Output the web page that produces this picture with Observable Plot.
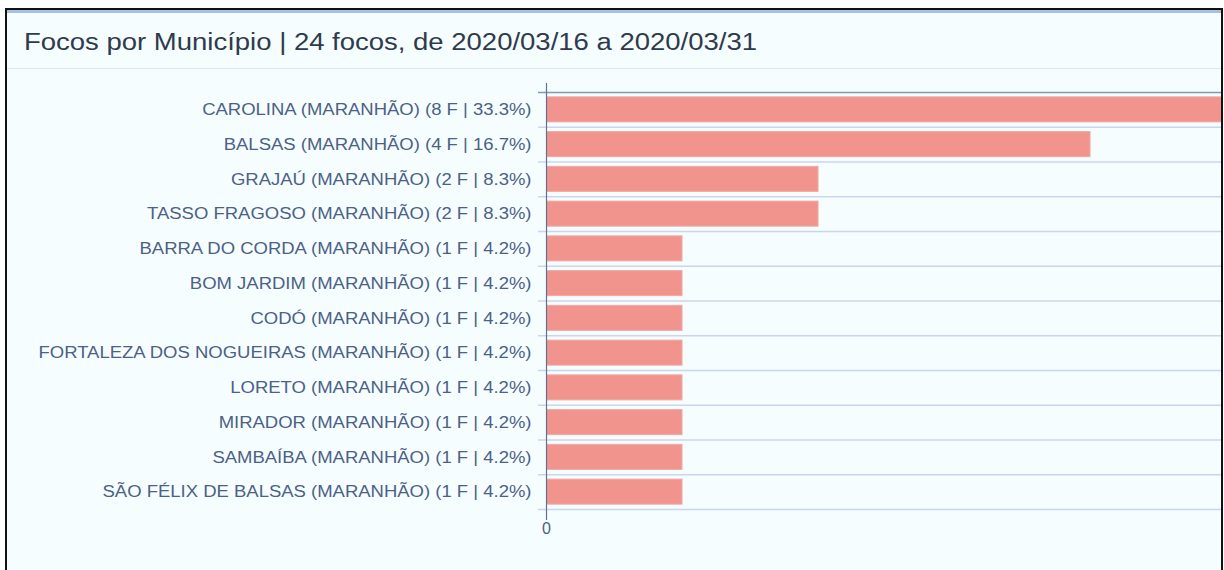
<!DOCTYPE html>
<html>
<head>
<meta charset="utf-8">
<script src="https://cdn.jsdelivr.net/npm/d3@7"></script>
<script src="https://cdn.jsdelivr.net/npm/@observablehq/plot@0.6"></script>
<style>
  html, body { margin: 0; padding: 0; background: #ffffff; width: 1224px; height: 570px; overflow: hidden; }
  #frame {
    position: absolute; left: 5px; top: 8px; width: 1218px; height: 600px;
    box-sizing: border-box; border: 2px solid #111; border-bottom: none;
    background: #f6fdfe;
  }
  #stripe { height: 3px; background: #a9bfe2; }
  #title {
    height: 56px; box-sizing: border-box; border-bottom: 1px solid #dde7f1;
    padding-left: 17px; line-height: 58px; overflow: hidden;
  }
  #title span {
    display: inline-block; transform-origin: 0 50%;
    font-family: "Liberation Sans", Arial, sans-serif; font-size: 23px; color: #2e3b4c;
    white-space: nowrap;
  }
  #chart { position: absolute; left: 0px; top: 60px; width: 1214px; }
</style>
</head>
<body>
<div id="frame">
  <div id="stripe"></div>
  <div id="title"><span id="titletext">Focos por Município | 24 focos, de 2020/03/16 a 2020/03/31</span></div>
  <div id="chart"></div>
</div>
<script>
const municipios = [
  "CAROLINA (MARANHÃO)",
  "BALSAS (MARANHÃO)",
  "GRAJAÚ (MARANHÃO)",
  "TASSO FRAGOSO (MARANHÃO)",
  "BARRA DO CORDA (MARANHÃO)",
  "BOM JARDIM (MARANHÃO)",
  "CODÓ (MARANHÃO)",
  "FORTALEZA DOS NOGUEIRAS (MARANHÃO)",
  "LORETO (MARANHÃO)",
  "MIRADOR (MARANHÃO)",
  "SAMBAÍBA (MARANHÃO)",
  "SÃO FÉLIX DE BALSAS (MARANHÃO)"
];
const focos = [8, 4, 2, 2, 1, 1, 1, 1, 1, 1, 1, 1];
const totalFocos = 24;
const xTicks = [0];

const data = municipios.map((m, i) => ({
  label: `${m} (${focos[i]} F | ${(focos[i] / totalFocos * 100).toFixed(1)}%)`,
  value: focos[i]
}));
const labels = data.map(d => d.label);

const W = 1214, H = 510, mTop = 22, mBottom = 71, mLeft = 539, mRight = 0;
const step = (H - mTop - mBottom) / labels.length;
const barInset = step * 0.14;

const chart = Plot.plot({
  width: W, height: H,
  marginTop: mTop, marginBottom: mBottom, marginLeft: mLeft, marginRight: mRight,
  style: { background: "transparent", fontFamily: "Liberation Sans, Arial, sans-serif", fontSize: "16px", color: "#4a5f82" },
  x: { domain: [0, 4.963], axis: null },
  y: { domain: labels, padding: 0, round: false, axis: null },
  marks: [
    Plot.ruleY(labels.slice(1), { y: d => d, dy: -step / 2, stroke: "#cbd6ee", strokeWidth: 1.3, insetLeft: -8 }),
    Plot.ruleY(labels.slice(-1), { y: d => d, dy: step / 2, stroke: "#cbd6ee", strokeWidth: 1.3, insetLeft: -8 }),
    Plot.ruleY(labels.slice(0, 1), { y: d => d, dy: -step / 2, stroke: "#7f98bd", strokeWidth: 1.3, insetLeft: -8 }),
    Plot.barX(data, { x: "value", y: "label", fill: "#f1948e", stroke: "#f3a7a2", strokeWidth: 1, insetTop: barInset, insetBottom: barInset, clip: true }),
    Plot.ruleX([0], { stroke: "#5d7396", strokeWidth: 1.2, insetTop: -9, insetBottom: -11 }),
    Plot.axisY({ tickSize: 0, tickPadding: 15, fontSize: 16, fill: "#4b6186", label: null }),
    Plot.text(xTicks, { x: d => d, frameAnchor: "bottom", dy: 24, text: d => String(d), fontSize: 16, fill: "#4b6186" })
  ]
});
document.getElementById("chart").appendChild(chart);

// horizontal stretch of the label text to mimic the reference's wide lettering
const yTexts = chart.querySelectorAll('g[aria-label="y-axis tick label"] text');
let widest = 0;
yTexts.forEach(t => { widest = Math.max(widest, t.getComputedTextLength()); });
const k = 493 / widest;
yTexts.forEach(t => {
  const L = t.getComputedTextLength();
  t.setAttribute("textLength", L * k);
  t.setAttribute("lengthAdjust", "spacingAndGlyphs");
});
const tt = document.getElementById("titletext");
tt.style.transform = `scaleX(${733 / tt.getBoundingClientRect().width})`;
</script>
</body>
</html>
